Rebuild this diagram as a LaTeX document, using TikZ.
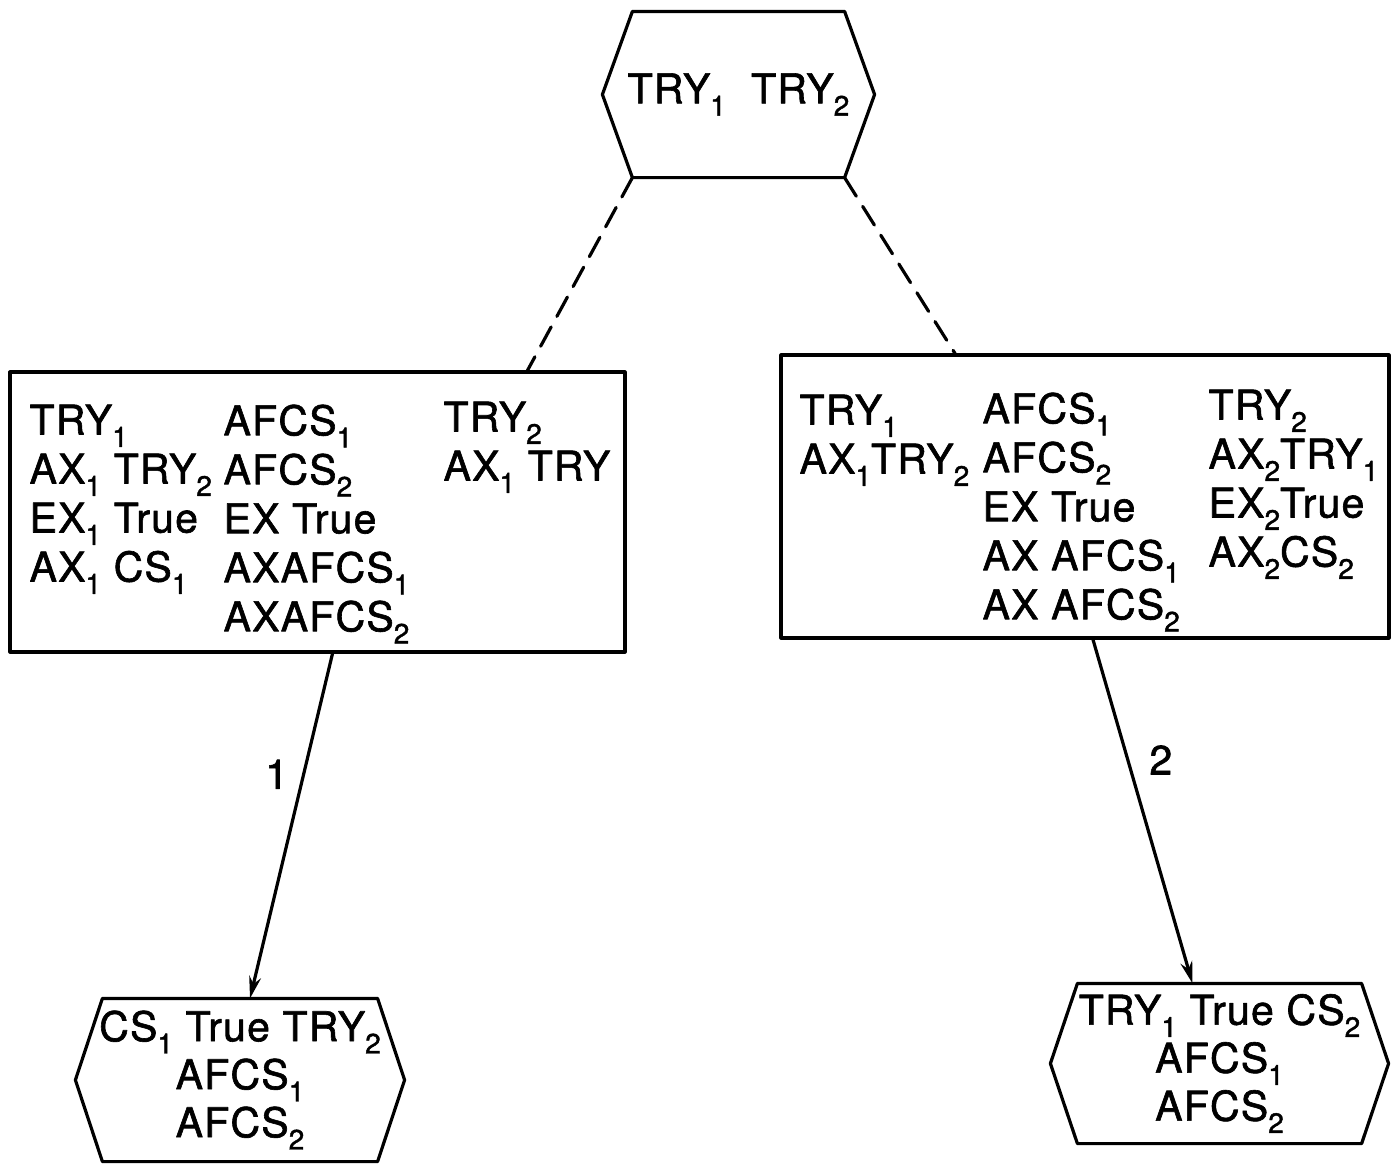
\documentclass[tikz,border=0pt]{standalone}
\usepackage{fontspec}
\setmainfont{TeX Gyre Heros}[FakeBold=1.5, LetterSpace=3]
\usetikzlibrary{arrows.meta}
\newcommand{\idx}[1]{\raisebox{-0.3em}{\fontsize{28}{28}\selectfont #1}}

\begin{document}
\begin{tikzpicture}[x=1pt, y=-1pt, line join=round, line cap=round, line width=3.2pt,
		>={Stealth[length=22pt,width=12pt]}, font=\fontsize{41}{49}\selectfont,
		every node/.style={inner sep=0pt},
		hexbody/.style={rectangle, align=center, inner xsep=-40pt, font=\fontsize{41}{48}\selectfont},
		col/.style={anchor=north west, align=left},
		link/.style={dashed, dash pattern=on 22pt off 12pt}]
	\useasboundingbox (0,0) rectangle (1393,1163);
	% root
	\node[hexbody, minimum width=209pt, minimum height=163pt] (start) at (738.5,94.5) {TRY\idx1\ \ TRY\idx2};
	\draw (start.north west)--(start.north east)--([xshift=30pt]start.east)--(start.south east)--(start.south west)--([xshift=-30pt]start.west)--cycle;
	% the two boxes
	\node[draw, minimum width=615pt, minimum height=280pt] (left) at (317.5,512) {};
	\node[draw, minimum width=608pt, minimum height=283pt] (right) at (1085,496.5) {};
	\node[col] (l1) at (28,403) {TRY\idx1\\AX\idx1 TRY\idx2\\EX\idx1 True\\AX\idx1 CS\idx1};
	\node[col] (l2) at (222,403) {AFCS\idx1\\AFCS\idx2\\EX True\\AXAFCS\idx1\\AXAFCS\idx2};
	\node[col] (l3) at (442,400) {TRY\idx2\\AX\idx1 TRY};
	\node[col] (r1) at (798,393) {TRY\idx1\\AX\idx1TRY\idx2};
	\node[col] (r2) at (981,391) {AFCS\idx1\\AFCS\idx2\\EX True\\AX AFCS\idx1\\AX AFCS\idx2};
	\node[col] (r3) at (1207,388) {TRY\idx2\\AX\idx2TRY\idx1\\EX\idx2True\\AX\idx2CS\idx2};
	\draw[link] (start.south west)--([xshift=210pt]left.north);
	\draw[link] (start.south east)--([xshift=-130pt]right.north);
	% leaves
	\node[hexbody, minimum width=272pt, minimum height=160pt] (goal1) at (240,1080) {CS\idx1 True TRY\idx2\\AFCS\idx1\\AFCS\idx2};
	\draw (goal1.north west)--(goal1.north east)--([xshift=27pt]goal1.east)--(goal1.south east)--(goal1.south west)--([xshift=-27pt]goal1.west)--cycle;
	\node[hexbody, minimum width=281pt, minimum height=157pt] (goal2) at (1219.5,1063.5) {TRY\idx1 True CS\idx2\\AFCS\idx1\\AFCS\idx2};
	\draw (goal2.north west)--(goal2.north east)--([xshift=27pt]goal2.east)--(goal2.south east)--(goal2.south west)--([xshift=-27pt]goal2.west)--cycle;
	\draw[->] ([xshift=15pt]left.south)--node[pos=0.35, left=14pt]{1}([xshift=10pt]goal1.north);
	\draw[->] ([xshift=8pt]right.south)--node[pos=0.35, right=20pt]{2}([xshift=-27pt]goal2.north);
\end{tikzpicture}
\end{document}
